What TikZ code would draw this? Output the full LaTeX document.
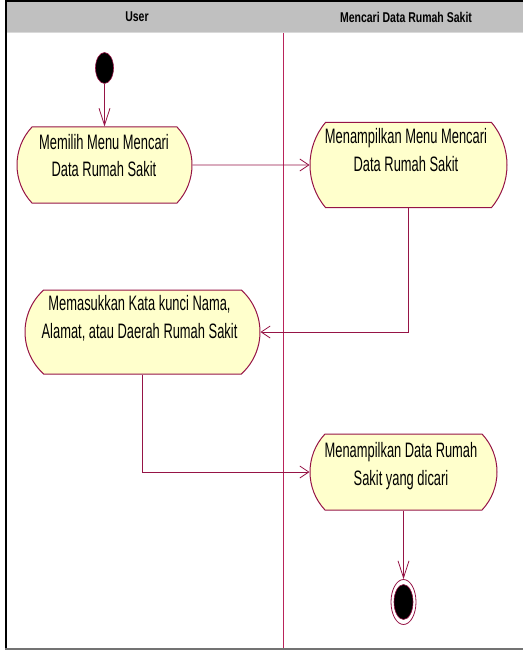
\documentclass[tikz,border=0pt]{standalone}
\usepackage{fontspec}
\setmainfont{Liberation Sans}
\usetikzlibrary{arrows.meta,shapes.geometric,shapes.misc}
\definecolor{flowc}{RGB}{150,20,70}
\definecolor{lanec}{RGB}{185,35,90}
\definecolor{actfill}{RGB}{255,255,204}
\definecolor{hdrgray}{RGB}{192,192,192}
\newcommand\vtxt[1]{\scalebox{1}[1.62]{\fontsize{12.9}{17}\selectfont\begin{tabular}{@{}c@{}}#1\end{tabular}}}
\newcommand\htxt[1]{\scalebox{1}[1.35]{\fontsize{10.5}{12}\selectfont\bfseries #1}}
\begin{document}
\begin{tikzpicture}[x=1pt,y=-1pt,
  act/.style={rounded rectangle, draw=flowc, fill=actfill, line width=1pt, inner sep=0pt},
  txt/.style={inner sep=0pt, text=black},
  flow/.style={draw=flowc, line width=0.8pt},
  vtip/.style={-{Straight Barb[length=17pt,width=11pt]}},
  htip/.style={-{Straight Barb[length=9pt,width=12pt]}},
]
\useasboundingbox (0,0) rectangle (523,650);
% frame and header
\fill[hdrgray] (6,1) rectangle (523,32);
\draw[black!15, line width=1pt] (7,32.5) -- (523,32.5);
\draw[black, line width=2.2pt] (5,1) -- (523,1);
\draw[black, line width=2.4pt] (6,0) -- (6,650);
\draw[black!55, line width=1.8pt] (5,649) -- (523,649);
\draw[lanec, line width=1pt] (283,33) -- (283,648);
\node[txt] (hu) at (137,17) {\htxt{User}};
\node[txt] (hm) at (406,17) {\htxt{Mencari Data Rumah Sakit}};
% start
\node[ellipse, fill=black, draw=flowc, line width=0.6pt, minimum width=18pt, minimum height=31pt, inner sep=0pt] (start) at (104.5,68) {};
% activities
\node[act, rounded rectangle arc length=86, minimum width=175pt, minimum height=76pt] (n1) at (104.5,165) {};
\node[txt] (t1) at (104,157.5) {\vtxt{Memilih Menu Mencari\\Data Rumah Sakit}};
\node[act, rounded rectangle arc length=80, minimum width=197pt, minimum height=85pt] (n2) at (408.5,165) {};
\node[txt] (t2) at (406,152) {\vtxt{Menampilkan Menu Mencari\\Data Rumah Sakit}};
\node[act, rounded rectangle arc length=96, minimum width=235pt, minimum height=84pt] (n3) at (142.5,332) {};
\node[txt] (t3) at (139.5,319) {\vtxt{Memasukkan Kata kunci Nama,\\Alamat, atau Daerah Rumah Sakit}};
\node[act, rounded rectangle arc length=86, minimum width=187pt, minimum height=76pt] (n4) at (403.5,472) {};
\node[txt] (t4) at (401,466) {\vtxt{Menampilkan Data Rumah\\Sakit yang dicari}};
% end
\node[ellipse, fill=white, draw=flowc, line width=0.8pt, minimum width=25pt, minimum height=45pt, inner sep=0pt] (endo) at (403.5,602) {};
\node[ellipse, fill=black, draw=flowc, line width=0.6pt, minimum width=19pt, minimum height=35pt, inner sep=0pt] (endi) at (403.5,602) {};
% connectors
\draw[flow,vtip] (start) -- (n1);
\draw[flow,htip] (n1) -- (n2);
\draw[flow,htip] (n2.south) |- (n3.east);
\draw[flow,htip] (n3.south) |- (n4.west);
\draw[flow,vtip] (n4) -- (endo);
\end{tikzpicture}
\end{document}
